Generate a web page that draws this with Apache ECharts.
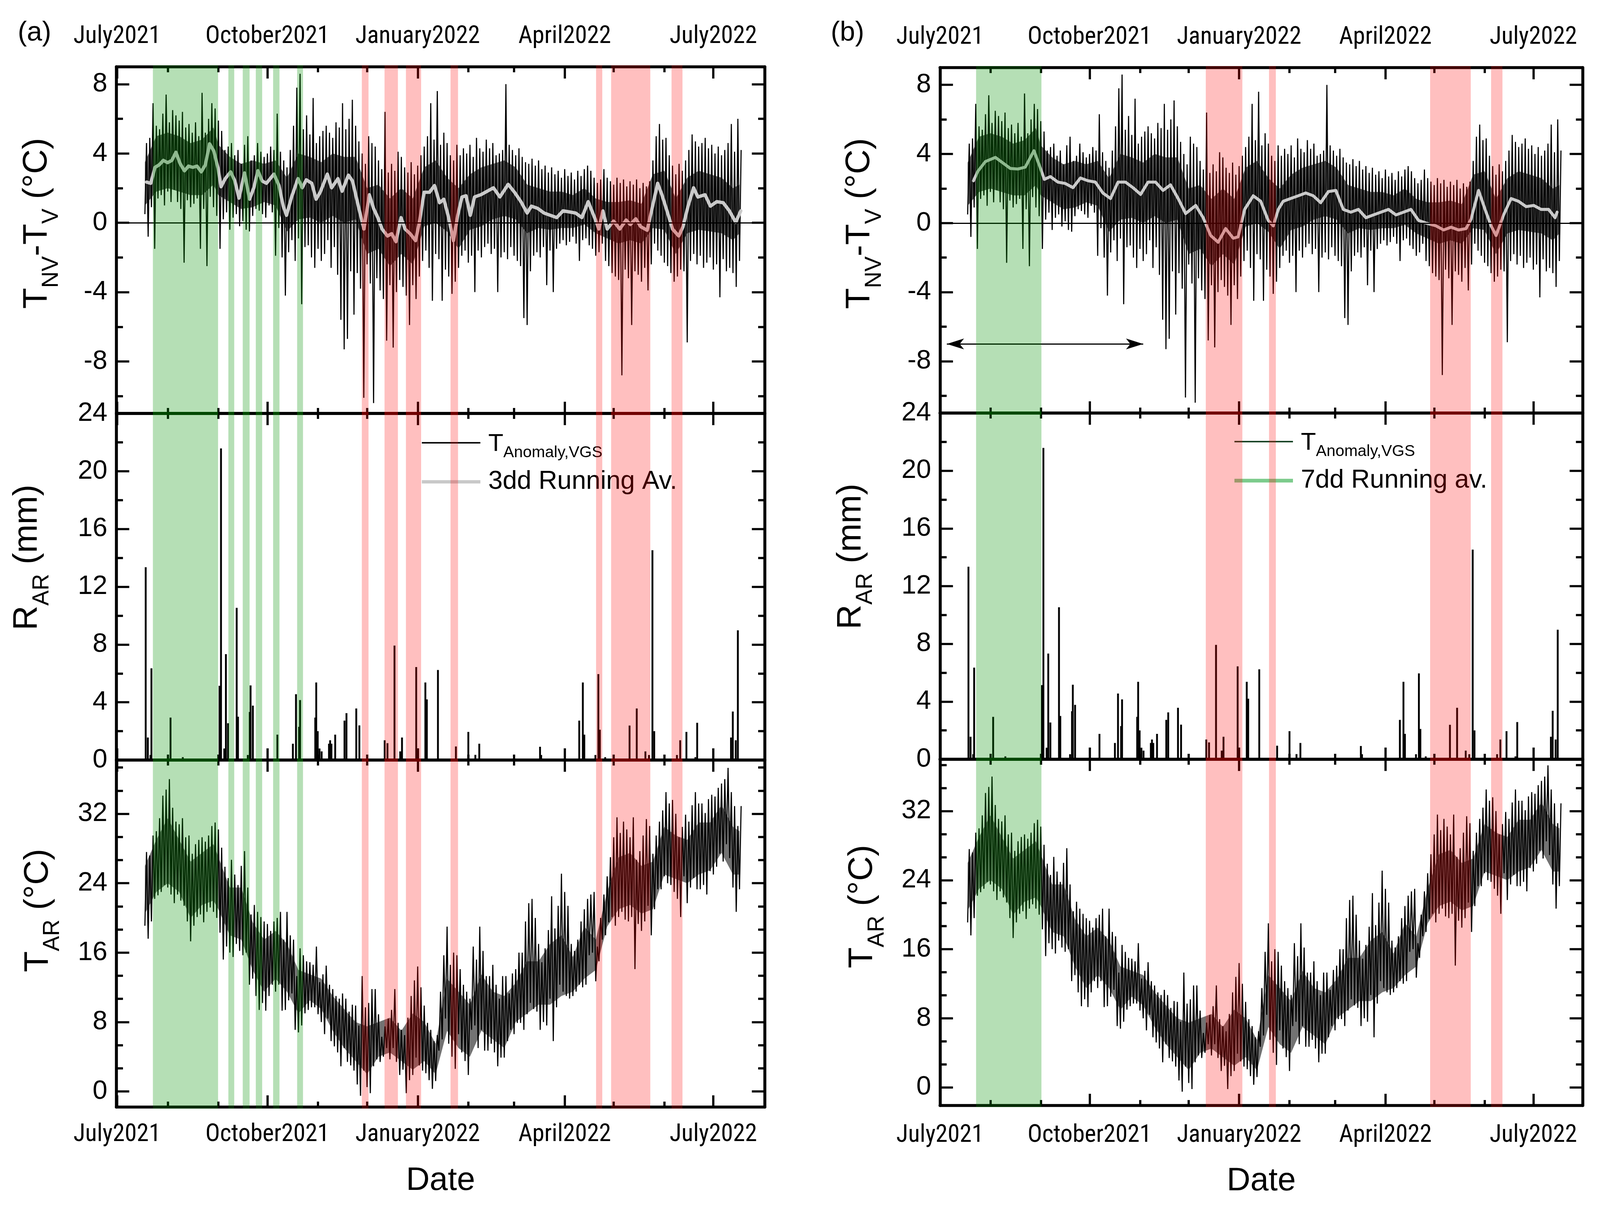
<!DOCTYPE html>
<html><head><meta charset="utf-8">
<script src="https://cdn.jsdelivr.net/npm/echarts@6/dist/echarts.min.js"></script>
<style>html,body{margin:0;padding:0;background:#fff;overflow:hidden}#c{width:100vw;height:100vh}</style>
</head><body><div id="c"></div>
<script>
// ---------------- DATA (x = days since 1 July 2021) ----------------
const X_TICK_DAYS = [0, 92, 184, 274, 365];
const X_TICK_LABELS = ['July2021', 'October2021', 'January2022', 'April2022', 'July2022'];
const X_MINOR_DAYS = [31, 62, 123, 153, 215, 243, 304, 335];

// T_NV - T_V : 2-day bins starting day 17 (low / high of each bin)
const BIN_START = 17, BIN_STEP = 2;
const TNV_HI = [4.6,4.9,6.9,5.6,5.4, 6.3,7.4,5.8,6.5,6.2, 5.9,6.4,5.5,5.7,5.2, 5.8,5.0,7.5,5.2,6.0,
 6.9,6.6,5.9,5.3,4.2, 4.4,4.6,3.9,4.2,3.4, 4.5,5.0,3.6,3.9,4.6, 4.1,3.8,4.0,4.4,4.2,
 6.3,4.1,3.6,3.2,4.2, 5.6,7.8,8.6,5.4,6.2, 5.1,7.2,4.6,5.0,5.3, 5.6,5.2,4.9,5.8,5.5,
 6.9,5.4,6.0,7.1,5.6, 4.7,4.0,3.4,5.0,4.6, 4.4,3.6,3.1,6.4,2.9, 3.4,3.0,4.1,3.8,3.2,
 2.9,3.5,2.8,3.3,3.9, 4.4,5.0,6.9,4.8,7.6, 4.5,5.2,4.6,3.9,3.6, 4.5,3.9,4.3,4.0,4.5,
 3.8,4.9,4.3,4.1,4.8, 4.3,4.6,3.9,4.0,4.2, 8.0,4.5,4.2,3.9,4.3, 3.8,3.5,3.4,3.7,3.3,
 3.6,3.1,3.3,2.9,3.2, 2.8,3.0,2.6,3.1,2.7, 2.9,2.5,3.0,2.7,3.1, 3.3,3.0,2.6,2.3,2.5,
 3.1,2.6,2.4,2.2,2.6, 2.3,2.5,2.1,2.4,2.2, 2.5,2.0,2.3,2.1,2.4, 3.6,5.0,5.7,4.8,4.9,
 3.9,3.3,2.8,3.4,3.0, 3.6,4.2,5.1,4.7,4.4, 4.6,4.9,4.3,4.5,4.0, 4.4,3.9,4.2,4.6,5.7,
 4.1,6.0,4.2];
const TNV_LO = [0.5,-0.8,0.9,-1.5,1.4, 1.6,1.0,1.8,1.2,1.9, 1.2,0.8,-2.3,1.3,0.9, 1.1,1.4,-1.5,0.8,-2.5,
 1.5,0.9,0.4,-1.5,0.2, 0.6,-0.4,0.3,0.5,-0.2, 0.1,-0.4,-0.5,0.4,0.8, 0.7,0.5,0.3,1.0,0.6,
 -1.9,-0.3,-2.0,-4.2,-1.7, -1.0,-2.2,-0.9,-4.7,-1.4, -1.3,-2.0,-2.6,-1.5,-2.2, -1.8,-1.0,-2.6,-1.4,-3.0,
 -5.6,-7.3,-6.7,-2.8,-5.3, -2.9,-3.8,-10.1,-2.4,-3.5, -10.4,-3.2,-3.9,-4.4,-6.8, -3.6,-7.2,-4.0,-3.3,-3.7,
 -4.2,-5.9,-3.6,-4.4,-3.1, -2.2,-1.6,-2.6,-4.5,-1.8, -2.1,-4.5,-2.7,-3.1,-4.1, -3.4,-2.6,-1.9,-1.6,-2.3,
 -1.9,-4.0,-1.6,-2.0,-1.4, -1.2,-1.8,-1.5,-4.0,-2.0, -1.7,-2.1,-1.4,-1.9,-2.2, -2.5,-5.5,-5.9,-2.8,-1.9,
 -1.7,-2.0,-1.4,-3.6,-1.6, -4.0,-1.5,-1.2,-1.0,-1.3, -1.1,-0.8,-1.2,-2.2,-1.0, -0.9,-1.3,-1.5,-1.9,-1.7,
 -1.2,-2.2,-2.5,-2.9,-3.1, -3.3,-8.8,-2.7,-3.2,-5.9, -2.8,-3.0,-3.4,-2.6,-3.9, -2.4,-1.2,-1.6,-1.9,-2.3,
 -2.5,-2.9,-3.4,-3.1,-2.7, -2.8,-6.9,-2.2,-1.8,-2.4, -1.9,-2.6,-2.3,-2.0,-2.7, -2.4,-4.3,-2.1,-2.8,-2.6,
 -2.9,-3.7,-2.2];
// dense core of the T_NV - T_V trace (nodes)
const TNV_CORE_DAYS = [17,24,31,38,45,52,59,62,69,76,83,90,97,104,111,118,125,132,139,146,153,160,167,174,181,188,195,202,209,
 216,223,230,237,244,251,258,265,272,279,286,293,300,307,314,321,328,335,342,349,356,363,370,377,381];
const TNV_CORE_LO = [1.0,1.8,2.0,1.8,1.6,1.6,2.2,1.6,1.2,0.8,0.9,1.2,1.0,-0.5,0.2,0.3,0.0,0.4,0.0,0.2,-1.8,-1.5,-2.5,-1.8,-2.4,-0.2,0.0,-0.5,-1.5,
 -0.4,-0.2,0.2,0.4,0.2,-0.6,-0.3,-0.4,-0.3,-0.3,-0.1,-0.6,-0.9,-1.2,-1.0,-1.2,-0.3,-0.4,-1.8,-0.6,-0.4,-0.5,-0.6,-1.0,-0.6];
const TNV_CORE_HI = [3.5,5.0,5.2,5.0,4.6,4.8,5.5,4.5,3.8,3.4,3.6,3.4,3.6,2.6,4.0,3.8,3.5,4.0,3.8,3.8,2.0,2.2,1.4,2.0,1.4,3.2,3.6,2.6,2.0,
 2.8,3.2,3.4,3.6,3.2,2.2,2.0,1.8,1.8,1.6,2.0,1.4,1.2,1.2,1.3,1.1,2.8,3.0,1.4,2.6,3.0,2.8,2.6,2.0,2.2];

// T_AR : same 2-day bins
const TAR_HI = [27.6,27.2,29.5,30.0,31.5, 34.1,34.8,36.0,32.7,31.1, 30.8,31.5,29.3,29.5,27.4, 28.5,29.0,29.3,28.8,29.5,
 30.6,31.0,30.2,28.1,25.9, 24.6,26.7,25.0,23.8,26.0, 27.7,23.5,20.4,21.5,20.7, 20.1,19.6,19.3,18.5,19.6,
 20.0,20.7,17.5,20.7,18.0, 17.5,13.3,16.5,15.7,15.0, 14.9,14.6,16.7,12.6,13.5, 14.5,12.3,11.8,11.0,10.7,
 11.3,10.7,9.2,10.0,9.9, 7.6,13.3,9.7,10.2,11.8, 11.8,8.9,6.3,7.5,8.4, 9.4,11.8,7.9,7.1,6.5,
 8.5,11.0,12.8,14.4,12.0, 9.9,7.9,7.1,5.8,6.5, 11.5,15.7,19.0,14.6,16.0, 15.7,14.1,12.3,11.5,10.7,
 16.7,15.2,19.0,16.2,13.3, 13.3,14.6,12.3,10.7,13.3, 13.3,11.3,13.6,14.1,16.0, 16.0,19.6,21.7,22.2,20.0,
 17.0,14.9,16.5,18.6,22.5, 18.8,21.4,25.1,23.0,21.4, 17.0,16.2,17.5,19.6,21.0, 22.2,22.7,23.0,16.7,20.0,
 22.7,24.8,27.0,29.3,31.6, 29.8,31.1,30.2,29.3,31.6, 26.7,27.7,29.5,31.4,30.6, 27.4,29.5,31.1,32.4,34.5,
 33.2,33.6,32.0,29.3,30.5, 31.9,31.1,33.0,34.5,33.2, 33.2,32.1,33.7,34.2,34.0, 35.0,35.5,36.0,37.3,34.5,
 32.9,30.6,32.9];
const TAR_LO = [19.1,17.6,19.6,22.2,22.6, 23.0,23.8,23.5,22.7,21.7, 22.7,22.0,21.4,19.6,17.3, 19.1,20.1,20.4,19.5,20.7,
 21.2,20.7,20.0,18.3,15.2, 16.7,16.0,15.5,17.0,16.2, 15.7,16.0,12.3,13.0,11.0, 9.4,10.2,9.3,11.0,12.3,
 11.5,12.3,9.3,9.4,10.5, 11.3,7.1,6.8,7.6,9.0, 9.4,9.7,9.7,8.9,8.0, 6.6,8.4,5.8,5.2,4.5,
 2.9,5.0,3.4,3.0,2.4, 0.8,-0.5,2.4,0.5,-0.2, 2.9,3.7,3.4,4.0,5.0, 3.7,5.0,3.4,1.9,2.5,
 -0.2,1.3,1.9,3.9,3.0, 2.4,2.1,1.3,0.3,1.2, 4.7,6.0,8.4,5.5,4.0, 2.6,6.6,4.5,3.5,1.9,
 7.1,7.6,5.0,7.1,4.7, 4.7,5.5,4.5,2.9,3.9, 3.9,5.8,7.1,6.6,7.9, 7.9,7.1,8.9,10.2,9.5,
 9.2,7.1,8.0,7.6,10.7, 5.8,9.7,12.3,11.5,11.0, 10.7,11.0,11.5,12.3,12.0, 12.3,15.7,16.0,12.7,15.0,
 17.5,18.0,19.5,20.1,19.1, 20.1,20.7,19.8,19.6,20.1, 14.1,19.3,18.5,19.6,21.4, 18.0,21.0,23.3,23.3,24.8,
 24.0,23.8,23.0,22.2,20.1, 24.8,21.7,23.5,24.6,23.3, 23.3,23.8,22.7,25.4,25.0, 25.9,27.4,26.5,28.5,26.9,
 23.5,20.7,23.3];
// dense core of the T_AR trace (nodes)
const TAR_CORE_DAYS = TNV_CORE_DAYS;
const TAR_CORE_LO = [20.5,23,24,23,20,21.5,22,21,18,17.5,14,11.5,13,11.5,9,10.5,9.5,7,5,3.5,2,4,4.5,3.5,2.5,3.5,2,7,5,
 4,7,6,5,8,9,10,10,11,11.5,13,14,19,21,21.5,20.5,21,25,24.5,24,25,25.5,27.5,25,25];
const TAR_CORE_HI = [26,29,31.5,29,26.5,27.5,28.5,27,23.5,23.5,19.5,17.5,18.5,17,14,13.5,13,11,9.5,8,7.5,8,8.5,7,9,8,5.5,13,11.5,
 10,13.5,11.5,11,12.5,15,15,17,18,15.5,19,17.5,23,27,27.5,26,26.5,30.5,29.5,29,31,31,33,30.5,30];

// 3dd running average (panel a)
const RA3_DAYS = [18.0,20.6,23.2,25.7,28.3,30.9,33.5,36.0,38.6,41.2,43.7,46.3,48.9,51.5,54.0,56.6,59.2,61.8,63.6,66.2,
 69.5,72.1,74.6,78.0,81.1,83.7,86.2,88.8,91.4,96.0,99.1,101.7,103.7,106.8,110.7,113.3,115.8,119.2,121.8,124.3,
 128.7,131.3,135.2,137.7,141.6,144.1,148.0,151.1,154.4,157.0,159.6,162.2,165.5,168.1,170.7,173.8,176.3,179.4,182.7,185.3,
 187.9,191.2,194.3,197.4,200.0,202.6,205.9,208.5,211.1,213.6,216.2,218.8,222.7,226.5,230.4,234.3,239.4,243.3,247.2,251.0,
 253.6,257.5,261.4,265.2,269.1,273.0,276.8,280.7,284.5,288.4,292.3,294.9,297.4,300.0,303.9,307.7,311.6,314.2,317.5,320.6,
 324.5,328.4,330.9,333.5,336.6,340.0,343.8,346.4,349.5,352.9,355.5,359.9,363.2,367.1,371.0,374.8,378.7,381.8];
const RA3_VALS = [2.35,2.28,3.2,3.34,3.6,3.47,3.6,4.07,3.41,3.0,3.27,3.2,3.27,2.94,3.34,4.56,4.14,3.14,2.08,2.55,
 2.94,2.41,1.42,2.88,1.36,2.02,3.01,2.41,2.28,2.81,2.15,0.96,0.43,1.49,2.55,2.02,2.48,2.28,1.36,1.76,
 2.81,2.02,2.55,1.82,2.75,2.41,0.83,-0.36,1.62,0.83,0.3,-0.36,-0.76,-0.63,-1.09,0.3,-0.36,-0.63,-1.03,0.16,
 1.76,1.76,2.15,1.16,1.36,0.43,-1.03,0.43,1.49,1.56,0.43,1.49,1.62,1.82,2.02,1.49,2.22,1.76,1.22,0.56,
 0.96,0.83,0.56,0.43,0.3,0.69,0.63,0.56,0.3,1.22,0.3,-0.36,0.69,-0.36,0.1,-0.36,0.16,-0.1,0.23,-0.23,
 -0.43,1.22,2.28,1.62,0.69,-0.36,-0.76,-0.23,0.96,2.02,1.49,1.62,0.96,1.22,1.16,0.69,0.03,0.69];

// 7dd running average (panel b)
const RA7_DAYS = [20.6,23.3,27.9,34.1,38.7,43.3,47.9,52.5,57.8,61.2,64.2,67.9,72.5,77.1,81.8,86.4,91.0,95.6,100.2,104.9,
 109.5,114.1,118.7,123.4,128.0,132.6,137.2,141.8,146.5,151.1,157.3,161.9,166.5,171.1,175.7,180.4,183.4,187.4,192.7,197.3,
 201.9,205.0,208.1,211.1,215.7,220.4,225.0,229.6,234.2,238.9,243.5,248.1,252.7,257.4,262.0,266.6,271.2,275.9,280.5,285.1,
 289.7,294.4,299.0,305.1,309.8,314.4,319.0,323.6,326.7,331.3,335.3,339.0,342.1,346.7,351.3,355.9,360.6,365.2,369.8,374.4,
 378.4,379.6];
const RA7_VALS = [2.45,3.0,3.56,3.8,3.48,3.16,3.13,3.24,4.19,3.32,2.53,2.69,2.37,2.29,2.05,2.61,2.45,2.37,1.74,1.42,
 2.37,2.37,2.05,1.66,2.37,2.37,1.89,2.21,1.42,0.55,1.02,0.31,-0.72,-1.11,-0.32,-0.88,-0.8,0.79,1.58,1.26,
 0.15,-0.16,0.79,1.26,1.42,1.58,1.74,1.58,1.18,1.82,1.89,0.79,0.63,0.79,0.31,0.47,0.63,0.79,0.47,0.63,
 0.79,0.15,0.0,-0.16,-0.4,-0.24,-0.4,-0.32,0.23,1.89,0.79,-0.16,-0.72,0.47,1.42,1.26,0.95,1.02,0.79,0.79,
 0.31,0.63];

// R_AR rain events
const RAIN_DAYS = [17.5,18.8,20.4,21.0,32.7,40.2,62.7,63.6,65.6,66.6,67.9,73.2,74.0,80.0,81.2,81.7,83.1,98.1,107.6,109.5,
 111.4,112.0,121.3,121.9,122.8,123.9,125.2,129.7,130.4,131.2,133.5,139.2,140.4,146.4,148.3,163.8,165.5,169.8,173.3,174.4,
 183.1,188.7,189.6,196.4,207.4,215.0,219.3,221.7,258.9,259.6,282.9,285.1,286.0,292.8,294.6,295.5,298.8,313.7,318.1,323.4,
 325.6,327.7,328.8,342.7,344.7,348.5,354.0,355.1,375.8,376.9,378.7,380.0];
const RAIN_MM = [13.35,1.56,0.35,6.35,2.94,0.2,5.14,21.58,0.8,7.33,2.55,10.54,3.0,0.35,3.33,5.17,3.77,1.76,1.13,4.56,
 2.3,4.15,2.94,5.37,2.0,0.8,0.6,1.13,1.37,1.13,1.76,2.73,3.25,3.57,2.4,1.37,1.17,7.93,0.6,1.56,
 6.44,5.37,4.2,6.24,0.94,1.95,0.36,1.13,0.92,0.35,2.73,5.37,1.76,0.35,5.95,2.1,0.2,2.39,3.57,0.6,
 0.35,14.53,2.0,0.35,1.37,1.95,0.2,2.58,1.56,3.36,1.37,8.98];

// shaded periods [start, end]
const GREEN_A = [[21.9,61.8],[68.1,71.7],[76.9,81.1],[84.9,88.8],[95.5,99.4],[110.2,113.8]];
const PINK_A = [[149.8,153.9],[163.7,171.9],[176.8,186.1],[204.1,208.7],[293.2,297.0],[302.4,326.4],[339.4,346.1]];
const GREEN_B = [[22.2,62.4]];
const PINK_B = [[163.5,186.0],[202.4,206.6],[301.5,326.5],[339.0,346.0]];

// ---------------- viewport scaling (layout designed for 4320 x 3099) ----------------
const dom = document.getElementById('c');
const VW = dom.clientWidth || window.innerWidth, VH = dom.clientHeight || window.innerHeight;
const SX = VW / 4320, SY = VH / 3099, FS = Math.sqrt(SX * SY), LS = Math.min(SX, SY);
const X = v => v * SX, Y = v => v * SY, S = v => v * FS, L = v => v * LS;

// ---------------- fonts ----------------
const mctx = document.createElement('canvas').getContext('2d');
function fontAvailable(name) {
  const s = 'October2021 JjWwmm';
  for (const base of ['monospace', 'serif']) {
    mctx.font = '100px ' + base; const a = mctx.measureText(s).width;
    mctx.font = '100px "' + name + '", ' + base; const b = mctx.measureText(s).width;
    if (Math.abs(a - b) > 0.5) return true;
  }
  return false;
}
let xFont = 'Liberation Sans';
for (const f of ['Liberation Sans Narrow', 'Arial Narrow', 'Roboto Condensed', 'DejaVu Sans Condensed', 'Open Sans Condensed', 'Noto Sans Condensed']) {
  if (fontAvailable(f)) { xFont = f; break; }
}
mctx.font = '100px "' + xFont + '"';
const wPer = mctx.measureText('October2021').width / 100;
const xSize = Math.min(S(72), X(335) / wPer);
const F = 'Liberation Sans';

// ---------------- layout ----------------
const GREEN = 'rgba(0,145,0,0.29)', PINK = 'rgba(255,0,0,0.25)';
const AXIS_W = L(8), TICK_W = L(6);
const PANELS = [
  {key:'a', left:314, width:1751, tops:[171,1058,1945], heights:[887,887,888], xmin:-0.5, xmax:396.5, y3:[-1.8,38.2],
   nameGaps:[156,182,153], shifts:[43,75,59], botBase:75, dateGap:147,
   raName:'3dd Running Av.', raDays:RA3_DAYS, raVals:RA3_VALS, raW:9, green:GREEN_A, pink:PINK_A},
  {key:'b', left:2538, width:1735, tops:[173,1057,1943], heights:[884,886,886], xmin:0, xmax:395.3, y3:[-2.1,38],
   nameGaps:[158,182,151], shifts:[43,76,66], botBase:81, dateGap:152,
   raName:'7dd Running av.', raDays:RA7_DAYS, raVals:RA7_VALS, raW:8, green:GREEN_B, pink:PINK_B}
];
const topMargin = Y(81) - 0.57 * xSize;

const TITLE_RICH = {
  m: {fontFamily:F, fontSize:S(90), lineHeight:S(102), verticalAlign:'top', color:'#000'},
  s: {fontFamily:F, fontSize:S(60), lineHeight:S(60), padding:[S(54),0,0,0], verticalAlign:'top', color:'#000'}
};
const Y_TITLES = ['{m|T}{s|NV}{m|-T}{s|V}{m| (°C)}', '{m|R}{s|AR}{m| (mm)}', '{m|T}{s|AR}{m| (°C)}'];

function zigzag(lo, hi) {
  const out = [];
  for (let i = 0; i < lo.length; i++) {
    const d = BIN_START + BIN_STEP * i;
    out.push([d, lo[i]]); out.push([d + 1, hi[i]]);
  }
  return out;
}
const zip = (a, b) => a.map((v, i) => [v, b[i]]);
const xLab = v => { const i = X_TICK_DAYS.indexOf(v); return i >= 0 ? X_TICK_LABELS[i] : ''; };

function coreSeries(days, lo, hi, axes, alpha) {
  const col = 'rgba(0,0,0,' + alpha + ')';
  return Object.assign({type:'custom', name:'core', silent:true, z:1, clip:true,
    data: days.map((d, i) => [d, lo[i], hi[i]]), encode:{x:0, y:[1,2]},
    renderItem:(params, api) => {
      const i = params.dataIndex;
      if (i >= days.length - 1) return null;
      const pts = [api.coord([days[i], lo[i]]), api.coord([days[i+1], lo[i+1]]),
                   api.coord([days[i+1], hi[i+1]]), api.coord([days[i], hi[i]])];
      return {type:'polygon', shape:{points:pts}, style:{fill:col}};
    }}, axes);
}

const grids = [], xAxis = [], yAxis = [], series = [];

function yspec(r, P) {
  if (r === 0) return {min:-11, max:9, major:[-8,-4,0,4,8], minor:[-10,-6,-2,2,6]};
  if (r === 1) return {min:0, max:24, major:[0,4,8,12,16,20,24], minor:[2,6,10,14,18,22]};
  return {min:P.y3[0], max:P.y3[1], major:[0,8,16,24,32],
    minor:[8/3,16/3,32/3,40/3,56/3,64/3,80/3,88/3,104/3,112/3]};
}

PANELS.forEach(P => {
  const g = [];
  for (let r = 0; r < 3; r++) {
    const gi = grids.length; g.push(gi);
    grids.push({left:X(P.left), top:Y(P.tops[r]), width:X(P.width), height:Y(P.heights[r])});
    const xa = (pos, vals, len, line, extra) => Object.assign({
      type:'value', gridIndex:gi, position:pos, min:P.xmin, max:P.xmax,
      splitLine:{show:false}, axisPointer:{show:false},
      axisLine:{show:line, onZero:false, lineStyle:{color:'#000', width:AXIS_W}},
      axisTick:{show:true, inside:true, length:Y(len), customValues:vals, lineStyle:{color:'#000', width:TICK_W}},
      axisLabel:{show:false}
    }, extra || {});
    const lab = margin => ({show:true, customValues:X_TICK_DAYS, formatter:xLab, fontFamily:xFont, fontSize:xSize, color:'#000', margin});
    xAxis.push(xa('bottom', X_TICK_DAYS, 30, true, r === 2 ? {axisLabel:lab(Y(P.botBase) - 0.55 * xSize), name:'Date', nameLocation:'middle',
      nameGap:Y(P.dateGap), nameTextStyle:{fontFamily:F, fontSize:S(86), color:'#000'}} : null));
    xAxis.push(xa('top', X_TICK_DAYS, 30, true, r === 0 ? {axisLabel:lab(topMargin)} : null));
    xAxis.push(xa('bottom', X_MINOR_DAYS, 14, false));
    xAxis.push(xa('top', X_MINOR_DAYS, 14, false));

    const Yv = yspec(r, P);
    const ya = (pos, vals, len, line, extra) => Object.assign({
      type:'value', gridIndex:gi, position:pos, min:Yv.min, max:Yv.max,
      splitLine:{show:false}, axisPointer:{show:false},
      axisLine:{show:line, onZero:false, lineStyle:{color:'#000', width:AXIS_W}},
      axisTick:{show:true, inside:true, length:X(len), customValues:vals, lineStyle:{color:'#000', width:TICK_W}},
      axisLabel:{show:false}
    }, extra || {});
    yAxis.push(ya('left', Yv.major, 35, true, {
      axisLabel:{show:true, customValues:Yv.major, fontFamily:F, fontSize:S(70), color:'#000', margin:X(24)},
      name:Y_TITLES[r], nameLocation:'middle', nameRotate:90, nameGap:X(P.nameGaps[r]),
      nameTextStyle:{fontFamily:F, fontSize:S(90), color:'#000', padding:[0,0,0,Y(2*P.shifts[r])], rich:TITLE_RICH}
    }));
    yAxis.push(ya('right', Yv.major, 35, true));
    yAxis.push(ya('left', Yv.minor, 18, false));
    yAxis.push(ya('right', Yv.minor, 18, false));
  }
  const ax = i => ({xAxisIndex:4*g[i], yAxisIndex:4*g[i]});

  series.push(coreSeries(TNV_CORE_DAYS, TNV_CORE_LO, TNV_CORE_HI, ax(0), 0.65));
  const tnv = Object.assign({type:'line', name:'T_Anomaly,VGS', data:zigzag(TNV_LO, TNV_HI), symbol:'none', silent:true, z:2,
    lineStyle:{color:'#000', width:L(3)}, itemStyle:{color:'#000'},
    markLine:{silent:true, symbol:'none', label:{show:false}, lineStyle:{color:'#000', width:L(3), type:'solid'}, data:[{yAxis:0}]}}, ax(0));
  if (P.key === 'b') {
    tnv.markLine.data.push([
      {coord:[4.2,-7], symbol:'arrow', symbolSize:[X(22),Y(44)]},
      {coord:[125,-7], symbol:'arrow', symbolSize:[X(22),Y(44)]}
    ]);
  }
  series.push(tnv);
  series.push(Object.assign({type:'line', name:P.raName, data:zip(P.raDays, P.raVals), symbol:'none', silent:true, z:3,
    lineStyle:{color:'#cacaca', width:L(P.raW), cap:'round', join:'round'}, itemStyle:{color:'#cacaca'}}, ax(0)));
  series.push(Object.assign({type:'bar', name:'R_AR', data:zip(RAIN_DAYS, RAIN_MM), barWidth:X(5), silent:true, z:2,
    itemStyle:{color:'#000'}}, ax(1)));
  series.push(coreSeries(TAR_CORE_DAYS, TAR_CORE_LO, TAR_CORE_HI, ax(2), 0.55));
  series.push(Object.assign({type:'line', name:'T_AR', data:zigzag(TAR_LO, TAR_HI), symbol:'none', silent:true, z:2,
    lineStyle:{color:'#000', width:L(3)}, itemStyle:{color:'#000'}}, ax(2)));

  const bands = P.green.map(b => [b[0], b[1], 1]).concat(P.pink.map(b => [b[0], b[1], 0]));
  for (let r = 0; r < 3; r++) {
    series.push(Object.assign({type:'custom', name:'bands', data:bands, silent:true, z:10, clip:false,
      encode:{x:[0,1]},
      renderItem:(params, api) => {
        const cs = params.coordSys;
        const x0 = api.coord([api.value(0), 0])[0], x1 = api.coord([api.value(1), 0])[0];
        return {type:'rect', shape:{x:x0, y:cs.y - Y(4), width:x1 - x0, height:cs.height + Y(8)},
          style:{fill: api.value(2) === 1 ? GREEN : PINK}};
      }}, ax(r)));
  }
});

const LEG_RICH = {
  m: {fontFamily:F, fontSize:S(65), lineHeight:S(70), padding:[S(6),0,0,X(16)], verticalAlign:'top', color:'#000'},
  s: {fontFamily:F, fontSize:S(42), lineHeight:S(42), padding:[S(40),0,0,0], verticalAlign:'top', color:'#000'},
  t: {fontFamily:F, fontSize:S(68), lineHeight:S(80), padding:[0,0,0,X(16)], color:'#000'}
};
const legFmt = n => n.indexOf('T_') === 0 ? '{m|T}{s|Anomaly,VGS}' : '{t|' + n + '}';
function leg(left, top, name, color, h) {
  return {left:X(left), top:Y(top), orient:'vertical', padding:0, icon:'rect', itemWidth:X(158), itemHeight:L(h), selectedMode:false,
    formatter:legFmt, textStyle:{fontFamily:F, fontSize:S(68), color:'#000', rich:LEG_RICH},
    data:[{name, icon:'rect', itemStyle:{color}}]};
}

const option = {
  animation:false,
  backgroundColor:'#fff',
  title:[
    {text:'(a)', left:X(48), top:Y(50), padding:0, textStyle:{fontFamily:F, fontSize:S(72), fontWeight:'normal', color:'#000'}},
    {text:'(b)', left:X(2243), top:Y(50), padding:0, textStyle:{fontFamily:F, fontSize:S(72), fontWeight:'normal', color:'#000'}}
  ],
  legend:[
    leg(1139, 1099, 'T_Anomaly,VGS', '#000', 4),
    leg(1139, 1200, '3dd Running Av.', '#c8c8c8', 9),
    leg(3333, 1096, 'T_Anomaly,VGS', '#123f20', 4),
    leg(3333, 1197, '7dd Running av.', '#7ccb8c', 10)
  ],
  grid:grids, xAxis, yAxis, series
};
const chart = echarts.init(dom, null, {renderer:'canvas'});
chart.setOption(option);
</script>
</body></html>
